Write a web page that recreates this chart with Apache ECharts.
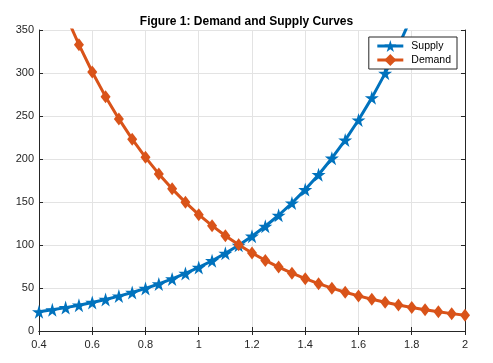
<!DOCTYPE html>
<html>
<head>
<meta charset="utf-8">
<script src="https://cdn.jsdelivr.net/npm/echarts@6/dist/echarts.min.js"></script>
<style>
  html, body { margin: 0; padding: 0; background: #fff; }
  #chart { width: 493px; height: 363px; }
</style>
</head>
<body>
<div id="chart"></div>
<script>
// price points on the x axis
const prices = [0.4, 0.45, 0.5, 0.55, 0.6, 0.65, 0.7, 0.75, 0.8, 0.85, 0.9, 0.95, 1,
  1.05, 1.1, 1.15, 1.2, 1.25, 1.3, 1.35, 1.4, 1.45, 1.5, 1.55, 1.6, 1.65, 1.7, 1.75,
  1.8, 1.85, 1.9, 1.95, 2];
const supply = [22.3, 24.6, 27.2, 30.0, 33.2, 36.7, 40.6, 44.8, 49.5, 54.7, 60.5, 66.9, 73.9,
  81.7, 90.3, 99.7, 110.2, 121.8, 134.6, 148.8, 164.4, 181.7, 200.9, 222.0, 245.3, 271.1, 299.6, 331.2,
  366.0, 404.5, 447.0, 494.0, 546.0];
const demand = [449.3, 406.6, 367.9, 332.9, 301.2, 272.5, 246.6, 223.1, 201.9, 182.7, 165.3, 149.6, 135.3,
  122.5, 110.8, 100.3, 90.7, 82.1, 74.3, 67.2, 60.8, 55.0, 49.8, 45.1, 40.8, 36.9, 33.4, 30.2,
  27.3, 24.7, 22.4, 20.2, 18.3];

const starPath = 'path://M50,0 L61,35 L98,35 L68,57 L79,91 L50,70 L21,91 L32,57 L2,35 L39,35 Z';
const font = 'Liberation Sans, Arial, sans-serif';
const ink = '#262626';

const chart = echarts.init(document.getElementById('chart'));

const axisCommon = {
  axisLine: { show: true, lineStyle: { color: ink, width: 1 } },
  axisTick: { show: true, inside: true, length: 4, lineStyle: { color: ink } },
  axisLabel: { color: ink, fontSize: 11, fontFamily: font }
};

chart.setOption({
  animation: false,
  title: {
    text: 'Figure 1: Demand and Supply Curves',
    left: 'center',
    top: 11,
    textStyle: { fontSize: 12, fontWeight: 'bold', color: '#000', fontFamily: font }
  },
  legend: {
    orient: 'vertical',
    right: 36,
    top: 37,
    itemWidth: 26,
    itemHeight: 15,
    itemGap: 2,
    padding: [3, 6, 3, 7],
    backgroundColor: '#fff',
    borderColor: ink,
    borderWidth: 1,
    borderRadius: 0,
    lineStyle: { width: 3 },
    textStyle: { fontSize: 10.5, color: '#000', fontFamily: font, padding: [0, 0, 0, 3] },
    data: ['Supply', 'Demand']
  },
  grid: { left: 39, right: 28, top: 30, bottom: 32 },
  xAxis: [
    Object.assign({}, axisCommon, {
      type: 'value', min: 0.4, max: 2, interval: 0.2,
      axisLabel: Object.assign({}, axisCommon.axisLabel, {
        margin: 8,
        formatter: v => String(Math.round(v * 10) / 10)
      }),
      splitLine: { show: true, lineStyle: { color: '#e3e3e3' } }
    }),
    Object.assign({}, axisCommon, {
      type: 'value', min: 0.4, max: 2, interval: 0.2, position: 'top',
      axisLabel: { show: false }, splitLine: { show: false }
    })
  ],
  yAxis: [
    Object.assign({}, axisCommon, {
      type: 'value', min: 0, max: 350, interval: 50,
      axisLabel: Object.assign({}, axisCommon.axisLabel, { margin: 5 }),
      splitLine: { show: true, lineStyle: { color: '#e3e3e3' } }
    }),
    Object.assign({}, axisCommon, {
      type: 'value', min: 0, max: 350, interval: 50, position: 'right',
      axisLabel: { show: false }, splitLine: { show: false }
    })
  ],
  series: [
    {
      name: 'Supply',
      type: 'line',
      data: prices.map((p, i) => [p, supply[i]]),
      symbol: starPath,
      symbolSize: 14,
      showAllSymbol: true,
      clip: true,
      itemStyle: { color: '#0072BD' },
      lineStyle: { color: '#0072BD', width: 3 }
    },
    {
      name: 'Demand',
      type: 'line',
      data: prices.map((p, i) => [p, demand[i]]),
      symbol: 'diamond',
      symbolSize: [10, 13],
      showAllSymbol: true,
      clip: true,
      itemStyle: { color: '#D95319' },
      lineStyle: { color: '#D95319', width: 3 }
    }
  ]
});
</script>
</body>
</html>
